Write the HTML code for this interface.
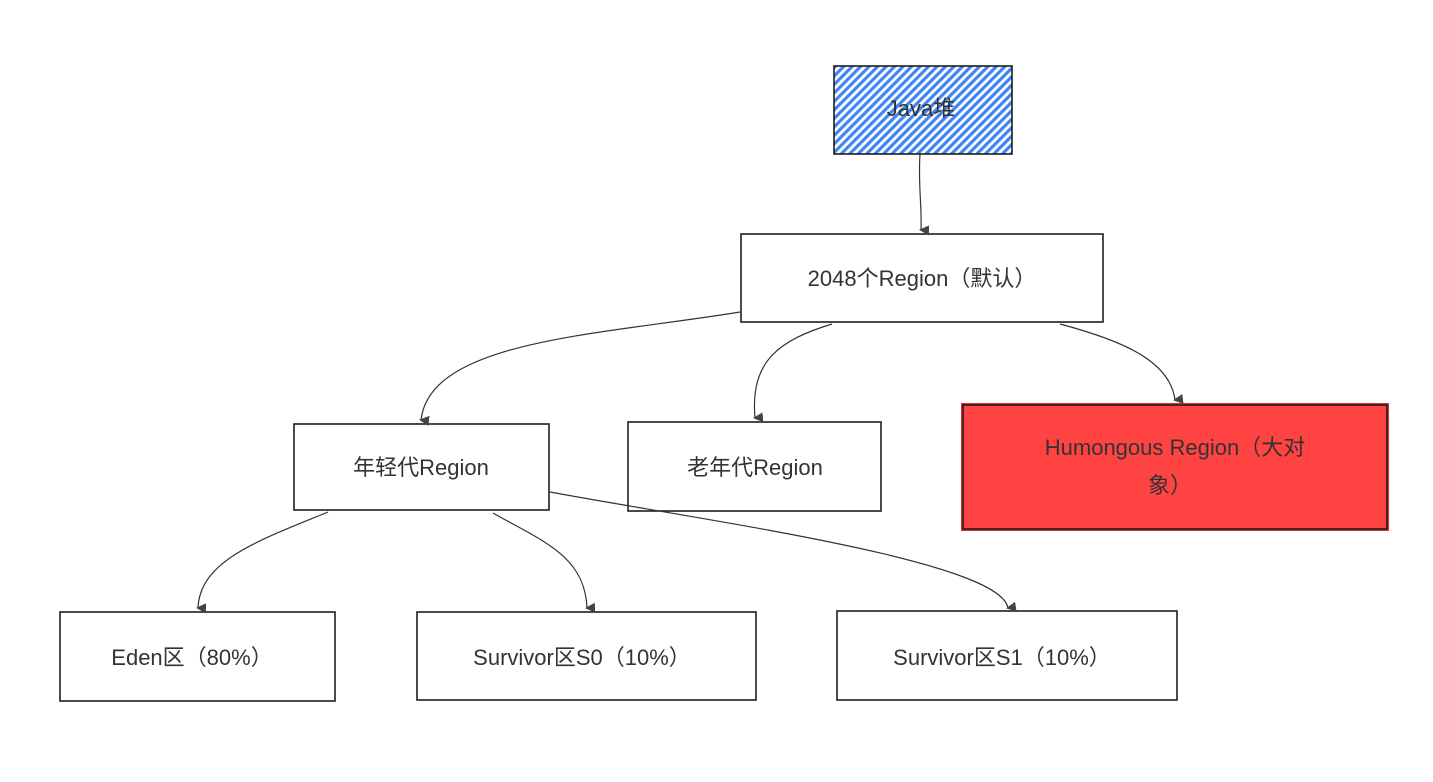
<!DOCTYPE html>
<html><head><meta charset="utf-8"><style>
html,body{margin:0;padding:0;background:#fff;}
body{width:1433px;height:777px;overflow:hidden;}
text{font-family:"Liberation Sans","Noto Sans CJK SC",sans-serif;font-size:22px;fill:#333;}
</style></head><body>
<svg width="1433" height="777" viewBox="0 0 1433 777" xmlns="http://www.w3.org/2000/svg">
<defs>
<pattern id="h" patternUnits="userSpaceOnUse" width="6" height="6" patternTransform="rotate(-45)">
<rect width="6" height="6" fill="#fff"/><rect width="6" height="3.2" fill="#3f86f4"/>
</pattern>
<marker id="a" markerWidth="10" markerHeight="10" refX="5" refY="8" orient="auto" markerUnits="userSpaceOnUse">
<path d="M0,0 L10,0 L5,10 Z" fill="#444"/>
</marker>
</defs>
<g fill="none" stroke="#1e1e1e" stroke-width="1.6">
<rect x="834" y="66" width="178" height="88" fill="url(#h)"/>
<rect x="741" y="234" width="362" height="88" fill="#fff"/>
<rect x="294" y="424" width="255" height="86" fill="#fff"/>
<rect x="628" y="422" width="253" height="89" fill="#fff"/>
<rect x="962" y="404" width="426" height="126" fill="#ff4343" stroke="#e03030" stroke-width="2"/>
<rect x="963" y="405" width="424" height="124" fill="none" stroke="#1e1e1e" stroke-width="1.6"/>
<rect x="60" y="612" width="275" height="89" fill="#fff"/>
<rect x="417" y="612" width="339" height="88" fill="#fff"/>
<rect x="837" y="611" width="340" height="89" fill="#fff"/>
</g>
<g fill="none" stroke="#333" stroke-width="1.2" marker-end="url(#a)">
<path d="M920,154 C918,185 922,205 921,230"/>
<path d="M740,312 C600,335 430,340 421,420"/>
<path d="M832,324 C780,340 750,360 755,418"/>
<path d="M1060,324 C1120,340 1170,360 1175,400"/>
<path d="M328,512 C260,540 200,560 198,608"/>
<path d="M493,513 C540,540 585,555 587,608"/>
<path d="M550,492 C700,520 1000,560 1008,608"/>
</g>
<text x="921" y="116" text-anchor="middle">Java堆</text>
<text x="922" y="286" text-anchor="middle">2048个Region（默认）</text>
<text x="421" y="475" text-anchor="middle">年轻代Region</text>
<text x="755" y="475" text-anchor="middle">老年代Region</text>
<text x="1175" y="455" text-anchor="middle">Humongous Region（大对</text>
<text x="1170" y="493" text-anchor="middle">象）</text>
<text x="192" y="665" text-anchor="middle">Eden区（80%）</text>
<text x="582" y="665" text-anchor="middle">Survivor区S0（10%）</text>
<text x="1002" y="665" text-anchor="middle">Survivor区S1（10%）</text>
</svg>
</body></html>
